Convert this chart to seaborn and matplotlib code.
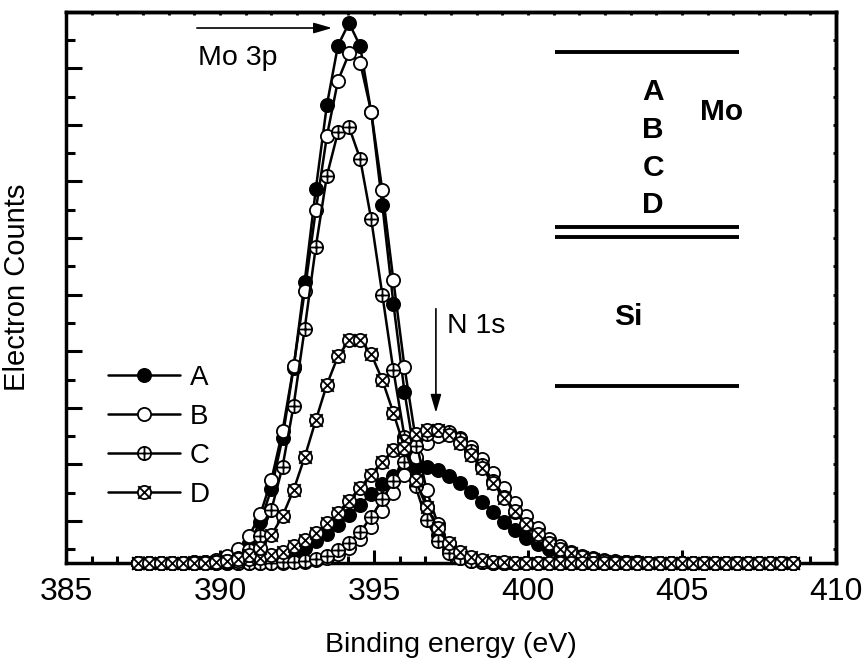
import matplotlib
matplotlib.use("Agg")
import matplotlib.pyplot as plt
import seaborn as sns
from matplotlib.path import Path
from matplotlib.ticker import MultipleLocator, AutoMinorLocator, FixedLocator

# ---------------- data ----------------
energy = [387.35, 387.71, 388.07, 388.43, 388.79, 389.15, 389.51, 389.87, 390.23, 390.59,
          390.95, 391.31, 391.67, 392.03, 392.39, 392.75, 393.11, 393.47, 393.83, 394.19,
          394.55, 394.91, 395.27, 395.63, 395.99, 396.35, 396.71, 397.07, 397.43, 397.79,
          398.15, 398.51, 398.87, 399.23, 399.59, 399.95, 400.31, 400.67, 401.03, 401.39,
          401.75, 402.11, 402.47, 402.83, 403.19, 403.55, 403.91, 404.27, 404.63, 404.99,
          405.35, 405.71, 406.07, 406.43, 406.79, 407.15, 407.51, 407.87, 408.23, 408.59]

mo3p_A = [0.26, 0.26, 0.26, 0.26, 0.26, 0.26, 0.27, 0.29, 0.33, 0.43,
          0.62, 0.98, 1.57, 2.47, 3.71, 5.23, 6.86, 8.35, 9.40, 9.80,
          9.39, 8.22, 6.59, 4.84, 3.28, 2.07, 1.25, 0.76, 0.49, 0.35,
          0.30, 0.27, 0.26, 0.26, 0.26, 0.26, 0.26, 0.26, 0.26, 0.26,
          0.26, 0.26, 0.26, 0.26, 0.26, 0.26, 0.26, 0.26, 0.26, 0.26,
          0.26, 0.26, 0.26, 0.26, 0.26, 0.26, 0.26, 0.26, 0.26, 0.26]
mo3p_B = [0.26, 0.26, 0.26, 0.26, 0.26, 0.27, 0.28, 0.31, 0.38, 0.50,
          0.74, 1.12, 1.73, 2.59, 3.73, 5.06, 6.49, 7.80, 8.78, 9.26,
          9.10, 8.23, 6.84, 5.25, 3.72, 2.46, 1.54, 0.95, 0.60, 0.41,
          0.32, 0.28, 0.27, 0.26, 0.26, 0.26, 0.26, 0.26, 0.26, 0.26,
          0.26, 0.26, 0.26, 0.26, 0.26, 0.26, 0.26, 0.26, 0.26, 0.26,
          0.26, 0.26, 0.26, 0.26, 0.26, 0.26, 0.26, 0.26, 0.26, 0.26]
mo3p_C = [0.26, 0.26, 0.26, 0.26, 0.26, 0.26, 0.26, 0.27, 0.29, 0.35,
          0.48, 0.74, 1.20, 1.96, 3.04, 4.40, 5.84, 7.10, 7.87, 7.96,
          7.40, 6.33, 5.00, 3.66, 2.49, 1.61, 1.01, 0.64, 0.44, 0.34,
          0.29, 0.27, 0.26, 0.26, 0.26, 0.26, 0.26, 0.26, 0.26, 0.26,
          0.26, 0.26, 0.26, 0.26, 0.26, 0.26, 0.26, 0.26, 0.26, 0.26,
          0.26, 0.26, 0.26, 0.26, 0.26, 0.26, 0.26, 0.26, 0.26, 0.26]
mo3p_D = [0.26, 0.26, 0.26, 0.26, 0.26, 0.26, 0.26, 0.27, 0.29, 0.33,
          0.40, 0.53, 0.75, 1.09, 1.55, 2.13, 2.78, 3.41, 3.91, 4.19,
          4.20, 3.95, 3.49, 2.91, 2.29, 1.72, 1.24, 0.88, 0.62, 0.46,
          0.36, 0.31, 0.28, 0.27, 0.26, 0.26, 0.26, 0.26, 0.26, 0.26,
          0.26, 0.26, 0.26, 0.26, 0.26, 0.26, 0.26, 0.26, 0.26, 0.26,
          0.26, 0.26, 0.26, 0.26, 0.26, 0.26, 0.26, 0.26, 0.26, 0.26]

n1s_A = [0.26, 0.26, 0.26, 0.26, 0.26, 0.26, 0.26, 0.27, 0.27, 0.28,
         0.29, 0.31, 0.34, 0.38, 0.44, 0.53, 0.64, 0.77, 0.93, 1.10,
         1.29, 1.48, 1.65, 1.80, 1.90, 1.96, 1.95, 1.90, 1.80, 1.67,
         1.51, 1.34, 1.16, 0.99, 0.84, 0.70, 0.59, 0.50, 0.43, 0.37,
         0.33, 0.31, 0.29, 0.28, 0.27, 0.27, 0.26, 0.26, 0.26, 0.26,
         0.26, 0.26, 0.26, 0.26, 0.26, 0.26, 0.26, 0.26, 0.26, 0.26]
n1s_B = [0.26, 0.26, 0.26, 0.26, 0.26, 0.26, 0.26, 0.26, 0.26, 0.26,
         0.26, 0.26, 0.26, 0.26, 0.27, 0.28, 0.31, 0.35, 0.42, 0.53,
         0.69, 0.90, 1.17, 1.49, 1.82, 2.13, 2.37, 2.51, 2.53, 2.46,
         2.31, 2.10, 1.85, 1.58, 1.32, 1.08, 0.87, 0.69, 0.56, 0.46,
         0.39, 0.34, 0.31, 0.29, 0.27, 0.27, 0.26, 0.26, 0.26, 0.26,
         0.26, 0.26, 0.26, 0.26, 0.26, 0.26, 0.26, 0.26, 0.26, 0.26]
n1s_C = [0.26, 0.26, 0.26, 0.26, 0.26, 0.26, 0.26, 0.26, 0.26, 0.26,
         0.26, 0.26, 0.26, 0.27, 0.28, 0.30, 0.33, 0.39, 0.48, 0.62,
         0.81, 1.07, 1.38, 1.71, 2.05, 2.33, 2.53, 2.61, 2.57, 2.44,
         2.24, 1.99, 1.71, 1.43, 1.16, 0.93, 0.74, 0.59, 0.48, 0.40,
         0.34, 0.31, 0.29, 0.27, 0.27, 0.26, 0.26, 0.26, 0.26, 0.26,
         0.26, 0.26, 0.26, 0.26, 0.26, 0.26, 0.26, 0.26, 0.26, 0.26]
n1s_D = [0.26, 0.26, 0.26, 0.26, 0.26, 0.27, 0.27, 0.27, 0.28, 0.30,
         0.32, 0.35, 0.40, 0.46, 0.55, 0.66, 0.79, 0.96, 1.15, 1.36,
         1.59, 1.82, 2.05, 2.25, 2.42, 2.54, 2.60, 2.60, 2.52, 2.38,
         2.17, 1.93, 1.67, 1.41, 1.17, 0.95, 0.77, 0.62, 0.51, 0.43,
         0.37, 0.33, 0.30, 0.28, 0.27, 0.27, 0.26, 0.26, 0.26, 0.26,
         0.26, 0.26, 0.26, 0.26, 0.26, 0.26, 0.26, 0.26, 0.26, 0.26]

sample_labels = ["A", "B", "C", "D"]
x_ticks = [385, 390, 395, 400, 405, 410]

# layer schematic (Mo / Si stack) drawn inside the plot
layer_line_y = [9.29, 6.19, 6.02, 3.39]
layer_line_x = [400.88, 406.85]
layer_text = ["A", "B", "C", "D", "Mo", "Si"]
layer_text_x = [404.06, 404.06, 404.06, 404.06, 406.30, 403.25]
layer_text_y = [8.58, 7.91, 7.24, 6.58, 8.23, 4.60]

# ---------------- style ----------------
sns.set_theme(style="white")
plt.rcParams['font.family'] = ['Liberation Sans', 'DejaVu Sans']
plt.rcParams.update({
    'axes.edgecolor': 'black', 'text.color': 'black', 'axes.labelcolor': 'black',
    'xtick.color': 'black', 'ytick.color': 'black',
})

fig = plt.figure(figsize=(8.67, 6.69), dpi=100)
ax = fig.add_axes([66 / 867, 1 - 563 / 669, (836 - 66) / 867, (563 - 12) / 669])

circle = Path.unit_circle()
plus = Path([(-1, 0), (1, 0), (0, -1), (0, 1)],
            [Path.MOVETO, Path.LINETO, Path.MOVETO, Path.LINETO])
cross = Path([(-0.95, -0.95), (0.95, 0.95), (-0.95, 0.95), (0.95, -0.95)],
             [Path.MOVETO, Path.LINETO, Path.MOVETO, Path.LINETO])
oplus = Path.make_compound_path(circle, plus)
otimes = Path.make_compound_path(circle, cross)

styles = {
    "A": dict(marker='o', markerfacecolor='black'),
    "B": dict(marker='o', markerfacecolor='white'),
    "C": dict(marker=oplus, markerfacecolor='white'),
    "D": dict(marker=otimes, markerfacecolor='white'),
}

mo_series = {"A": mo3p_A, "B": mo3p_B, "C": mo3p_C, "D": mo3p_D}
n_series = {"A": n1s_A, "B": n1s_B, "C": n1s_C, "D": n1s_D}

handles = []
for lab in sample_labels:
    for series, keep in ((n_series, False), (mo_series, True)):
        sns.lineplot(x=energy, y=series[lab], ax=ax, color='black',
                     linewidth=1.8, markersize=9.5, markeredgecolor='black',
                     markeredgewidth=1.3, clip_on=False, zorder=3,
                     legend=False, estimator=None, **styles[lab])
        if keep:
            handles.append(ax.lines[-1])

ax.set_xlim(385, 410)
ax.set_ylim(0.258, 9.993)
ax.xaxis.set_major_locator(FixedLocator(x_ticks))
ax.xaxis.set_minor_locator(AutoMinorLocator(6))
ax.yaxis.set_major_locator(MultipleLocator(1))
ax.yaxis.set_minor_locator(MultipleLocator(0.5))
ax.tick_params(axis='x', which='major', direction='in', length=9.5, width=2.2,
               labelsize=23, pad=10, bottom=True)
ax.tick_params(axis='x', which='minor', direction='in', length=5, width=2.2,
               bottom=True)
ax.tick_params(axis='y', which='major', direction='in', length=11.5, width=2.2,
               labelleft=False, left=True)
ax.tick_params(axis='y', which='minor', direction='in', length=6.5, width=2.2,
               left=True)
for sp in ax.spines.values():
    sp.set_linewidth(2.5)
    sp.set_color('black')
    sp.set_zorder(2.5)

# tiny notches on top / right
sx = ax.secondary_xaxis('top')
sx.xaxis.set_major_locator(FixedLocator(x_ticks))
sx.xaxis.set_minor_locator(AutoMinorLocator(6))
sx.tick_params(which='both', direction='in', length=2, width=2, labeltop=False)
sy = ax.secondary_yaxis('right')
sy.yaxis.set_major_locator(MultipleLocator(1))
sy.yaxis.set_minor_locator(MultipleLocator(0.5))
sy.tick_params(which='both', direction='in', length=2, width=2, labelright=False)
for s in (sx, sy):
    for sp in s.spines.values():
        sp.set_linewidth(2.5)
        sp.set_color('black')

ax.set_xlabel("Binding energy (eV)", fontsize=20.5, labelpad=18)
ax.set_ylabel("Electron Counts", fontsize=21, labelpad=22)

# annotations
arrow_style = dict(arrowstyle='-|>,head_length=0.55,head_width=0.16',
                   color='black', lw=1.2, mutation_scale=20, shrinkA=0, shrinkB=0)
ax.annotate('', xy=(393.64, 9.71), xytext=(389.25, 9.71), arrowprops=arrow_style)
ax.text(389.29, 9.06, "Mo 3p", fontsize=20.5, ha='left', va='baseline')
ax.annotate('', xy=(397.01, 2.91), xytext=(397.01, 4.75), arrowprops=arrow_style)
ax.text(397.37, 4.32, "N 1s", fontsize=20.5, ha='left', va='baseline')

# layer schematic
ax.hlines(layer_line_y, layer_line_x[0], layer_line_x[1], color='black', linewidth=2.8)
for t, tx, ty in zip(layer_text, layer_text_x, layer_text_y):
    ax.text(tx, ty, t, fontsize=21.5, fontweight='bold', ha='center', va='center')

leg = ax.legend(handles=handles, labels=sample_labels, loc='upper left',
                bbox_to_anchor=(0.054, 0.36), frameon=False, fontsize=20,
                handlelength=2.6, handletextpad=0.35, labelspacing=0.47,
                borderpad=0, borderaxespad=0, numpoints=1)

fig.savefig("out.png", dpi=100)
